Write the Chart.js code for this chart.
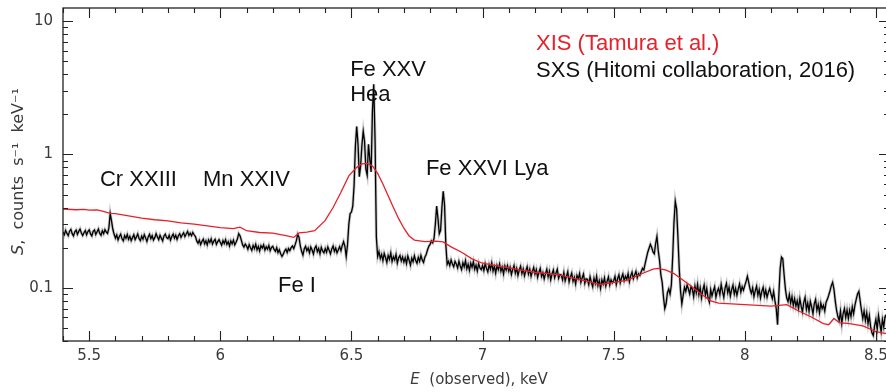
<!DOCTYPE html>
<html>
<head>
<meta charset="utf-8">
<title>Perseus Fe-K spectrum</title>
<script src="https://cdn.jsdelivr.net/npm/chart.js@4.4.1/dist/chart.umd.min.js"></script>
<style>
    html, body { margin: 0; padding: 0; background: #fff; overflow: hidden; }
    #wrap { position: absolute; left: 0; top: 0; width: 892px; height: 392px; }
</style>
</head>
<body>
<div id="wrap"><canvas id="spectrum" width="892" height="392"></canvas></div>
<script>
// ---- Data ----
// SXS spectrum, binned at 5 eV starting at 5.400 keV (counts s^-1 keV^-1)
const sxsStart = 5.400;
const sxsStep = 0.005;
const sxsCounts = [
    // 5.40
    0.262,0.250,0.270,0.256,0.246,0.266,0.274,0.255,0.245,0.263,0.271,0.252,0.265,0.276,0.258,0.247,0.259,0.269,0.250,0.264,
    // 5.50 (Cr XXIII)
    0.272,0.254,0.245,0.265,0.271,0.251,0.263,0.276,0.256,0.248,0.268,0.255,0.273,0.262,0.256,0.282,0.360,0.318,0.275,0.252,
    // 5.60
    0.236,0.249,0.229,0.243,0.253,0.233,0.225,0.246,0.235,0.251,0.231,0.243,0.226,0.238,0.250,0.230,0.241,0.254,0.234,0.226,
    // 5.70
    0.244,0.232,0.250,0.237,0.223,0.241,0.252,0.234,0.246,0.228,0.238,0.255,0.241,0.230,0.248,0.236,0.225,0.245,0.253,0.238,
    // 5.80
    0.234,0.248,0.228,0.243,0.253,0.236,0.248,0.231,0.246,0.255,0.239,0.250,0.259,0.242,0.253,0.265,0.247,0.257,0.246,0.260,
    // 5.90
    0.250,0.242,0.225,0.216,0.228,0.211,0.223,0.232,0.214,0.225,0.210,0.229,0.219,0.233,0.213,0.224,0.231,0.212,0.222,0.230,
    // 6.00 (Mn XXIV)
    0.219,0.209,0.226,0.215,0.230,0.212,0.222,0.206,0.225,0.214,0.228,0.210,0.220,0.232,0.255,0.246,0.228,0.210,0.202,0.213,
    // 6.10
    0.206,0.195,0.211,0.200,0.191,0.208,0.197,0.212,0.193,0.204,0.189,0.207,0.199,0.210,0.192,0.203,0.195,0.208,0.190,0.201,
    // 6.20 (Fe I)
    0.205,0.194,0.188,0.200,0.184,0.193,0.180,0.172,0.179,0.189,0.195,0.184,0.197,0.190,0.200,0.206,0.197,0.210,0.226,0.252,
    // 6.30
    0.240,0.206,0.188,0.176,0.196,0.205,0.190,0.199,0.183,0.202,0.192,0.179,0.198,0.206,0.187,0.197,0.180,0.201,0.189,0.183,
    // 6.40
    0.197,0.185,0.203,0.191,0.180,0.196,0.206,0.188,0.199,0.183,0.193,0.204,0.190,0.208,0.222,0.205,0.172,0.210,0.300,0.360,
    // 6.50 (Fe XXV He-alpha complex)
    0.370,0.410,0.580,1.150,1.620,1.200,0.680,0.820,1.180,1.490,1.250,0.780,0.700,1.190,0.920,0.740,2.100,3.350,1.300,0.240,
    // 6.60
    0.172,0.187,0.166,0.178,0.160,0.181,0.169,0.155,0.175,0.164,0.183,0.158,0.171,0.162,0.178,0.153,0.168,0.175,0.159,0.170,
    // 6.70
    0.156,0.168,0.152,0.173,0.161,0.148,0.167,0.157,0.174,0.160,0.153,0.169,0.158,0.175,0.162,0.155,0.170,0.178,0.192,0.205,
    // 6.80 (Fe XXVI Ly-alpha)
    0.212,0.225,0.218,0.235,0.300,0.410,0.330,0.255,0.270,0.400,0.530,0.420,0.210,0.150,0.158,0.147,0.162,0.151,0.144,0.158,
    // 6.90
    0.151,0.141,0.158,0.146,0.137,0.154,0.144,0.160,0.139,0.150,0.135,0.153,0.143,0.157,0.138,0.148,0.134,0.152,0.141,0.137,
    // 7.00
    0.147,0.135,0.152,0.140,0.132,0.149,0.138,0.154,0.134,0.145,0.129,0.147,0.137,0.151,0.133,0.143,0.127,0.146,0.136,0.147,
    // 7.10
    0.133,0.143,0.126,0.137,0.147,0.129,0.140,0.124,0.136,0.145,0.128,0.139,0.123,0.134,0.144,0.127,0.138,0.122,0.133,0.142,
    // 7.20
    0.127,0.137,0.120,0.131,0.140,0.122,0.130,0.117,0.128,0.138,0.121,0.133,0.115,0.127,0.136,0.119,0.129,0.138,0.118,0.126,
    // 7.30
    0.125,0.115,0.130,0.113,0.122,0.132,0.111,0.121,0.129,0.112,0.120,0.107,0.124,0.117,0.128,0.110,0.119,0.127,0.108,0.117,
    // 7.40
    0.116,0.106,0.121,0.110,0.102,0.118,0.108,0.122,0.104,0.113,0.099,0.115,0.107,0.119,0.103,0.112,0.121,0.105,0.115,0.109,
    // 7.50
    0.113,0.122,0.106,0.117,0.125,0.109,0.119,0.127,0.113,0.122,0.116,0.128,0.111,0.123,0.131,0.117,0.125,0.133,0.119,0.128,
    // 7.60 (Ni XXVII)
    0.124,0.132,0.140,0.136,0.152,0.168,0.185,0.198,0.212,0.201,0.186,0.180,0.215,0.243,0.190,0.160,0.125,0.110,0.085,0.070,
    // 7.70 (Fe XXV He-beta)
    0.076,0.092,0.098,0.090,0.105,0.170,0.310,0.445,0.390,0.240,0.140,0.095,0.076,0.088,0.101,0.094,0.105,0.098,0.090,0.102,
    // 7.80
    0.098,0.086,0.103,0.092,0.106,0.089,0.100,0.084,0.096,0.105,0.088,0.099,0.084,0.078,0.097,0.087,0.095,0.102,0.085,0.094,
    // 7.90
    0.099,0.089,0.106,0.094,0.085,0.100,0.108,0.092,0.101,0.087,0.097,0.105,0.090,0.099,0.088,0.098,0.107,0.093,0.102,0.096,
    // 8.00
    0.104,0.112,0.122,0.110,0.098,0.091,0.100,0.086,0.095,0.103,0.088,0.097,0.084,0.094,0.101,0.087,0.096,0.085,0.093,0.099,
    // 8.10
    0.090,0.083,0.094,0.080,0.070,0.053,0.090,0.140,0.170,0.165,0.125,0.098,0.084,0.079,0.089,0.077,0.086,0.074,0.083,0.073,
    // 8.20
    0.080,0.070,0.083,0.073,0.066,0.078,0.085,0.069,0.077,0.067,0.079,0.072,0.064,0.076,0.082,0.068,0.075,0.065,0.077,0.070,
    // 8.30
    0.074,0.067,0.078,0.082,0.088,0.095,0.104,0.110,0.098,0.080,0.068,0.061,0.057,0.067,0.054,0.064,0.070,0.060,0.068,0.059,
    // 8.40
    0.068,0.061,0.072,0.064,0.074,0.082,0.090,0.094,0.080,0.068,0.059,0.067,0.057,0.065,0.054,0.062,0.051,0.046,0.044,0.052,
    // 8.50
    0.058,0.049,0.062,0.054,0.047,0.058,0.051,0.061,0.063
];

// XIS spectrum (keV, counts s^-1 keV^-1)
const xisEnergy = [
    5.40,5.45,5.48,5.50,5.53,5.55,5.58,5.60,5.65,5.70,5.75,5.80,5.85,5.90,5.95,6.00,6.05,6.075,6.10,6.15,
    6.20,6.25,6.28,6.30,6.33,6.36,6.40,6.43,6.46,6.49,6.52,6.54,6.56,6.58,6.60,6.62,6.64,6.66,6.68,6.70,
    6.72,6.74,6.78,6.82,6.85,6.88,6.92,6.96,7.00,7.05,7.10,7.15,7.20,7.25,7.30,7.35,7.40,7.45,7.50,7.55,
    7.60,7.65,7.67,7.70,7.73,7.76,7.79,7.83,7.87,7.90,7.95,8.00,8.05,8.10,8.13,8.16,8.20,8.25,8.30,8.32,
    8.34,8.36,8.40,8.45,8.48,8.50,8.55
];
const xisCounts = [
    0.390,0.385,0.388,0.382,0.384,0.376,0.362,0.360,0.346,0.333,0.324,0.318,0.307,0.300,0.291,0.283,0.278,0.285,0.268,0.260,
    0.257,0.246,0.239,0.258,0.262,0.268,0.320,0.400,0.520,0.690,0.800,0.850,0.855,0.820,0.720,0.600,0.490,0.400,0.330,0.280,
    0.245,0.228,0.222,0.224,0.221,0.203,0.185,0.165,0.153,0.147,0.141,0.136,0.131,0.128,0.124,0.118,0.112,0.106,0.110,0.114,
    0.126,0.138,0.140,0.136,0.128,0.116,0.105,0.091,0.080,0.077,0.076,0.075,0.074,0.073,0.074,0.075,0.068,0.061,0.054,0.053,
    0.059,0.055,0.054,0.052,0.049,0.047,0.045
];

// Axis ticks
const energyTicks = [5.5, 6, 6.5, 7, 7.5, 8, 8.5];
const countTicks = [0.1, 1, 10];

// Line identifications and legend text, placed at (keV, counts)
const lineLabels = [
    { text: 'Cr XXIII', e: 5.541, s: 0.58 },
    { text: 'Mn XXIV', e: 5.934, s: 0.58 },
    { text: 'Fe I', e: 6.220, s: 0.093 },
    { text: 'Fe XXV', e: 6.495, s: 3.87 },
    { text: 'Hea', e: 6.495, s: 2.51 },
    { text: 'Fe XXVI Lya', e: 6.784, s: 0.70 },
    { text: 'XIS (Tamura et al.)', e: 7.204, s: 6.06, color: '#e8202a' },
    { text: 'SXS (Hitomi collaboration, 2016)', e: 7.204, s: 3.80 }
];

const sxsPoints = sxsCounts.map((c, i) => ({ x: +(sxsStart + i * sxsStep).toFixed(3), y: c }));
const xisPoints = xisEnergy.map((e, i) => ({ x: e, y: xisCounts[i] }));

const AXIS_COLOR = '#222';
const TEXT_FONT = "'Liberation Sans', Arial, sans-serif";
const AXIS_FONT = "'DejaVu Sans', sans-serif";

// ---- Frame with inward ticks on all four sides ----
const framePlugin = {
    id: 'frame',
    afterDraw(chart) {
        const { ctx, chartArea: a, scales: { x, y } } = chart;
        ctx.save();
        ctx.strokeStyle = AXIS_COLOR;
        ctx.lineWidth = 1.3;
        ctx.strokeRect(a.left, a.top, a.right - a.left, a.bottom - a.top);

        ctx.lineWidth = 1.1;
        ctx.beginPath();
        // energy ticks every 0.1 keV, long ones every 0.5 keV
        for (let k = 54; k <= 85; k++) {
            const e = k / 10;
            const px = Math.round(x.getPixelForValue(e)) + 0.5;
            if (px < a.left || px > a.right) continue;
            const len = (k % 5 === 0) ? 10 : 5;
            ctx.moveTo(px, a.bottom); ctx.lineTo(px, a.bottom - len);
            ctx.moveTo(px, a.top); ctx.lineTo(px, a.top + len);
        }
        // log ticks: 1..9 in each decade
        for (let d = -2; d <= 1; d++) {
            for (let m = 1; m <= 9; m++) {
                const v = m * Math.pow(10, d);
                if (v < y.min || v > y.max) continue;
                const py = Math.round(y.getPixelForValue(v)) + 0.5;
                const len = (m === 1) ? 10 : 5;
                ctx.moveTo(a.left, py); ctx.lineTo(a.left + len, py);
                ctx.moveTo(a.right, py); ctx.lineTo(a.right - len, py);
            }
        }
        ctx.stroke();
        ctx.restore();
    }
};

// draws a row of text pieces (some italic) centred on cx
function drawRuns(ctx, runs, cx, cy, size) {
    const fontOf = r => (r.italic ? 'italic ' : '') + size + 'px ' + AXIS_FONT;
    let total = 0;
    runs.forEach(r => { ctx.font = fontOf(r); total += ctx.measureText(r.t).width; });
    let xPos = cx - total / 2;
    runs.forEach(r => {
        ctx.font = fontOf(r);
        ctx.fillText(r.t, xPos, cy);
        xPos += ctx.measureText(r.t).width;
    });
}

// ---- Axis titles and line labels ----
const labelPlugin = {
    id: 'labels',
    afterDraw(chart) {
        const { ctx, chartArea: a, scales: { x, y } } = chart;
        ctx.save();
        ctx.textBaseline = 'alphabetic';
        ctx.textAlign = 'left';
        lineLabels.forEach(l => {
            ctx.font = '22px ' + TEXT_FONT;
            ctx.fillStyle = l.color || '#111';
            ctx.fillText(l.text, x.getPixelForValue(l.e), y.getPixelForValue(l.s));
        });

        ctx.fillStyle = '#3a3a3a';
        ctx.textBaseline = 'middle';
        drawRuns(ctx, [{ t: 'E', italic: true }, { t: '  (observed), keV' }], (a.left + a.right) / 2 + 3, a.bottom + 39, 15);

        ctx.translate(19, (a.top + a.bottom) / 2 - 3);
        ctx.rotate(-Math.PI / 2);
        drawRuns(ctx, [{ t: 'S', italic: true }, { t: ',  counts  s\u207B\u00B9  keV\u207B\u00B9' }], 0, 0, 16);
        ctx.restore();
    }
};

const ctx = document.getElementById('spectrum').getContext('2d');
new Chart(ctx, {
    type: 'line',
    data: {
        datasets: [
            {
                label: 'XIS',
                data: xisPoints,
                borderColor: '#e8202a',
                borderWidth: 1.3,
                pointRadius: 0,
                tension: 0
            },
            {
                // error-bar haze under the SXS trace
                label: 'SXS errors',
                data: sxsPoints,
                borderColor: 'rgba(0, 0, 0, 0.22)',
                borderWidth: 3,
                pointRadius: 0,
                tension: 0
            },
            {
                label: 'SXS',
                data: sxsPoints,
                borderColor: '#000',
                borderWidth: 1.3,
                pointRadius: 0,
                tension: 0
            }
        ]
    },
    options: {
        responsive: false,
        animation: false,
        devicePixelRatio: 1,
        layout: { padding: { top: 8, right: 3, left: 0, bottom: 0 } },
        plugins: {
            legend: { display: false },
            tooltip: { enabled: false }
        },
        scales: {
            x: {
                type: 'linear',
                min: 5.4,
                max: 8.55,
                border: { display: false },
                grid: { display: false, drawTicks: false },
                afterBuildTicks: scale => { scale.ticks = energyTicks.map(v => ({ value: v })); },
                afterFit: scale => {
                    scale.height = 51;
                    scale.paddingLeft = 0;
                    scale.paddingRight = 0;
                },
                ticks: {
                    autoSkip: false,
                    maxRotation: 0,
                    padding: 6,
                    color: '#3a3a3a',
                    font: { family: AXIS_FONT, size: 15 },
                    callback: v => String(v)
                }
            },
            y: {
                type: 'logarithmic',
                min: 0.04,
                max: 12.5,
                border: { display: false },
                grid: { display: false, drawTicks: false },
                afterBuildTicks: scale => { scale.ticks = countTicks.map(v => ({ value: v })); },
                afterFit: scale => {
                    scale.width = 63;
                    scale.paddingTop = 0;
                    scale.paddingBottom = 0;
                },
                ticks: {
                    padding: 10,
                    color: '#3a3a3a',
                    font: { family: AXIS_FONT, size: 15 },
                    callback: v => String(v)
                }
            }
        }
    },
    plugins: [framePlugin, labelPlugin]
});
</script>
</body>
</html>
